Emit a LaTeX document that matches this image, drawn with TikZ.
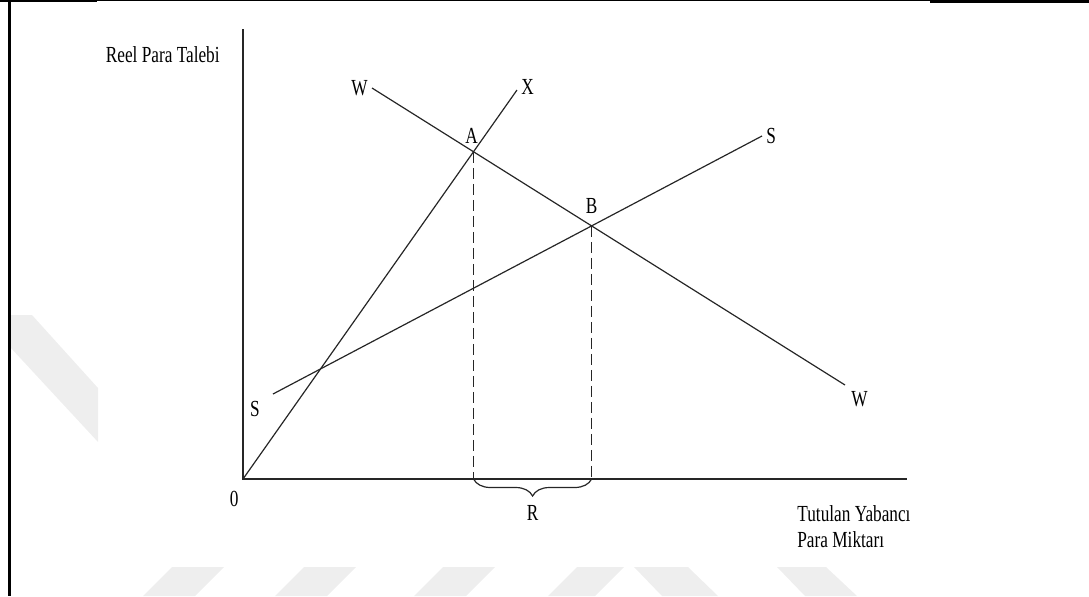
\documentclass[tikz,border=0pt]{standalone}
\usepackage{fontspec}
\setmainfont{Liberation Serif}[FakeStretch=0.75]
\usetikzlibrary{positioning,calc,decorations.pathreplacing}

\begin{document}
\begin{tikzpicture}[
    x=0.5pt, y=-0.5pt,
    every node/.style={font=\fontsize{11.5}{13}\selectfont},
    lbl/.style={inner sep=1pt},
    axis/.style={line width=0.8pt, black!85},
    curve/.style={line width=0.6pt, black!85},
    guide/.style={line width=0.6pt, black!85, dash pattern=on 5.5pt off 2.5pt},
    wmark/.style={fill=gray!13, draw=none},
]
  \useasboundingbox (0,0) rectangle (1089,596);
  % Page frame and watermark
  \fill[wmark] (10,315) -- (32,315) -- (98,388) -- (98,442) -- (10,347) -- cycle;
  \fill[wmark] (172,567) -- (224,567) -- (195,596) -- (143,596) -- cycle;
  \fill[wmark] (304,567) -- (356,567) -- (327,596) -- (275,596) -- cycle;
  \fill[wmark] (443,567) -- (495,567) -- (466,596) -- (414,596) -- cycle;
  \fill[wmark] (577,567) -- (624,567) -- (595,596) -- (548,596) -- cycle;
  \fill[wmark] (634,567) -- (688,567) -- (718,596) -- (662,596) -- cycle;
  \fill[wmark] (777,567) -- (826,567) -- (857,596) -- (805,596) -- cycle;
  \draw[line width=1.3pt] (9.5,0) -- (9.5,596);
  \draw[line width=0.6pt] (0,0.6) -- (1089,0.6);
  \draw[line width=1.1pt] (0,1) -- (97,1);
  \draw[line width=1.3pt] (930,1.2) -- (1089,1.2);

  % Axes and curves
  \coordinate (O)    at (243,479);
  \coordinate (ytop) at (243,29);
  \coordinate (xend) at (907,479);
  \coordinate (W1)   at (372,88);
  \coordinate (W2)   at (845,385);
  \coordinate (X1)   at (517,90);
  \coordinate (S1)   at (273,394);
  \coordinate (S2)   at (762,136);
  \coordinate (A) at (intersection of O--X1 and W1--W2);
  \coordinate (B) at (intersection of S1--S2 and W1--W2);
  \coordinate (Ax) at (A |- O);
  \coordinate (Bx) at (B |- O);

  \draw[axis] (ytop) -- (O) -- (xend);
  \draw[curve] (O) -- (X1);
  \draw[curve] (W1) -- (W2);
  \draw[curve] (S1) -- (S2);
  \draw[guide] (A) -- (Ax);
  \draw[guide] (B) -- (Bx);
  \draw[curve, decorate, decoration={brace, mirror, amplitude=8.5pt}] (Ax) -- (Bx);
  \coordinate (Rtip) at ($(Ax)!0.5!(Bx)+(0,18)$);

  % Labels
  \node[lbl, left=1pt of W1] (wtop) {W};
  \node[lbl, right=1pt of X1, yshift=1.5pt] (xlab) {X};
  \node[lbl, above=3pt of A, xshift=-1pt] (alab) {A};
  \node[lbl, above=5pt of B] (blab) {B};
  \node[lbl, right=1pt of S2] (stop) {S};
  \node[lbl, below left=2.5pt and 5.5pt of S1] (sbot) {S};
  \node[lbl, below right=2pt and 2pt of W2] (wbot) {W};
  \node[lbl, below left=5pt and 1pt of O] (zero) {0};
  \node[lbl, below=3pt of Rtip] (rlab) {R};
  \node[lbl, anchor=east] (ylab) at (222,55) {Reel Para Talebi};
  \node[lbl, anchor=north west, align=left] (xaxlab) at (795,503) {Tutulan Yabancı\\Para Miktarı};
\end{tikzpicture}
\end{document}
